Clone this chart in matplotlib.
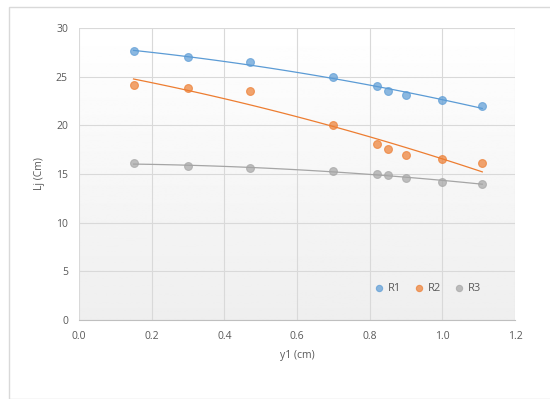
import numpy as np
import matplotlib
matplotlib.use("Agg")
import matplotlib.pyplot as plt
from matplotlib.patches import Rectangle

plt.rcParams["font.family"] = ["Open Sans", "DejaVu Sans"]

# Datos
y1 = [0.15, 0.30, 0.47, 0.70, 0.82, 0.85, 0.90, 1.00, 1.11]
r1 = [27.6, 27.0, 26.5, 25.0, 24.0, 23.5, 23.1, 22.6, 22.0]
r2 = [24.1, 23.8, 23.5, 20.0, 18.1, 17.6, 17.0, 16.5, 16.1]
r3 = [16.1, 15.8, 15.6, 15.3, 15.0, 14.9, 14.6, 14.2, 14.0]
series = {"R1": r1, "R2": r2, "R3": r3}
colors = {"R1": "#5B9BD5", "R2": "#ED7D31", "R3": "#A5A5A5"}

fig = plt.figure(figsize=(5.5, 3.99), dpi=100)
fig.patches.append(Rectangle((9 / 550, 0), 1, 1 - 7 / 399, transform=fig.transFigure,
                             fill=False, edgecolor="#d9d9d9", lw=1))
ax = fig.add_axes([79 / 550, (399 - 320) / 399, 436 / 550, 292 / 399])

# fondo degradado del área de trazado (blanco arriba -> gris claro abajo)
grad = np.linspace(1.0, 0.935, 256).reshape(-1, 1)
ax.imshow(grad, cmap="gray", vmin=0, vmax=1, aspect="auto", extent=[0, 1, 0, 1],
          transform=ax.transAxes, zorder=0)

x = np.array(y1)
xs = np.linspace(x.min(), x.max(), 100)
for name, vals in series.items():
    c = colors[name]
    coef = np.polyfit(x, vals, 2)
    ax.plot(xs, np.polyval(coef, xs), color=c, lw=0.9, zorder=2)
    ax.scatter(x, vals, s=32, color=c, alpha=0.7, edgecolors=c, linewidths=0.8,
               zorder=3, label=name)

ax.set_xlim(0, 1.2)
ax.set_ylim(0, 30)
ax.set_xticks(np.arange(0, 1.21, 0.2))
ax.set_xticklabels([f"{v:.1f}" for v in np.arange(0, 1.21, 0.2)])
ax.set_yticks(range(0, 31, 5))
ax.grid(color="#d9d9d9", lw=0.8, zorder=1)
ax.set_axisbelow(True)
for s in ["top", "right", "left"]:
    ax.spines[s].set_visible(False)
ax.spines["bottom"].set_color("#bfbfbf")
ax.tick_params(length=0, colors="#595959", labelsize=7.5, pad=8)
ax.set_xlabel("y1 (cm)", color="#595959", fontsize=7.5, labelpad=6)
ax.set_ylabel("Lj (Cm)", color="#595959", fontsize=7.5, labelpad=8)

ax.legend(loc="lower right", bbox_to_anchor=(0.945, 0.055), ncol=3, frameon=False,
          fontsize=8, handletextpad=-0.2, columnspacing=0.6, markerscale=0.8,
          labelcolor="#595959")

fig.savefig("out.png", dpi=100)
